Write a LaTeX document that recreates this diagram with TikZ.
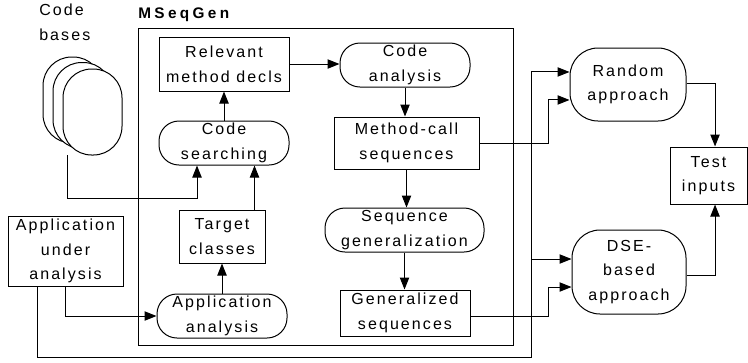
\documentclass[tikz,border=0pt]{standalone}
\usepackage{fontspec}
\setmainfont{Liberation Sans}[LetterSpace=13]
\newfontfamily\mfont{Liberation Sans}[LetterSpace=22]
\usetikzlibrary{arrows.meta}
\tikzset{
  box/.style={draw, line width=0.75pt, inner sep=0pt, align=center, font=\fontsize{12}{18.5}\selectfont},
  stad/.style={box, rounded corners=15pt},
  bigstad/.style={box, rounded corners=21pt},
  cyl/.style={draw, line width=0.75pt, fill=white, rounded corners=21.5pt, minimum width=44.25pt, minimum height=64.5pt},
  arr/.style={-{Triangle[length=9pt,width=7pt]}, line width=0.75pt},
  ln/.style={line width=0.75pt},
  lbl/.style={inner sep=0pt, align=left, font=\fontsize{12}{18.5}\selectfont}
}
\begin{document}
\begin{tikzpicture}[x=0.75pt, y=-0.75pt]
\useasboundingbox (0,0) rectangle (748,362);
% labels
\node[lbl, anchor=north west] (cbl) at (39,4) {Code\\bases};
\node[inner sep=0pt, anchor=west, font=\mfont\bfseries\fontsize{11.5}{13}\selectfont] (mtitle) at (138,15) {MSeqGen};
% MSeqGen frame
\node[draw, line width=0.75pt, minimum width=281.25pt, minimum height=237.75pt, inner sep=0pt] (mbox) at (325.5,186.5) {};
% code bases stack
\node[cyl] (cb1) at (72.5,100) {};
\node[cyl] (cb2) at (82.5,105.5) {};
\node[cyl] (cb3) at (92.5,112) {};
\coordinate (cbout) at (67,155);
% nodes
\node[box, minimum width=97.5pt, minimum height=40.5pt] (rel) at (224,64) {Relevant\\method decls};
\node[stad, minimum width=97.5pt, minimum height=33pt] (ca) at (405,65) {Code\\analysis};
\node[box, minimum width=108.75pt, minimum height=39pt] (mcs) at (406.5,143) {Method-call\\sequences};
\node[stad, minimum width=97.5pt, minimum height=33pt] (cs) at (224,143) {Code\\searching};
\node[box, minimum width=64.5pt, minimum height=39.75pt] (tc) at (222,236.5) {Target\\classes};
\node[stad, minimum width=97.5pt, minimum height=33pt] (aa) at (222,316) {Application\\analysis};
\node[box, minimum width=86.25pt, minimum height=52.5pt] (aua) at (65.5,251) {Application\\under\\analysis};
\node[stad, minimum width=119.25pt, minimum height=33pt] (sg) at (404.5,230) {Sequence\\generalization};
\node[box, minimum width=97.5pt, minimum height=34.5pt] (gs) at (405,313) {Generalized\\sequences};
\node[bigstad, minimum width=87pt, minimum height=54.75pt] (ra) at (628,84.5) {Random\\approach};
\node[bigstad, minimum width=85.5pt, minimum height=63pt] (dse) at (629,272) {DSE-\\based\\approach};
\node[box, minimum width=57.75pt, minimum height=42.75pt] (ti) at (708.5,175.5) {Test\\inputs};
% turning points
\coordinate (cbturn) at (197,198);
\coordinate (busx) at (531,357);
\coordinate (j1) at (531,259);
\coordinate (jx) at (548,0);
% connectors
\draw[arr] (rel.east) -- (rel.east -| ca.west);
\draw[arr] (ca.south) -- (ca.south |- mcs.north);
\draw[arr] (mcs.south) -- (mcs.south |- sg.north);
\draw[arr] (sg.south) -- (sg.south |- gs.north);
\draw[arr] (cs.north) -- (cs.north |- rel.south);
\draw[arr] (aa.north) -- (aa.north |- tc.south);
\draw[arr] ([xshift=-8.25pt]tc.north east) -- ([xshift=-8.25pt]tc.north east |- cs.south);
\draw[arr] (cbout) |- (cbturn) -- (cbturn |- cs.south);
\draw[arr] (aua.south) |- (aa.west);
\draw[arr] ([xshift=22.5pt]aua.south west) |- (busx) |- ([yshift=9.4pt]ra.west);
\draw[arr] (j1) -- ([yshift=9.75pt]dse.west);
\draw[arr] (mcs.east) -- (mcs.east -| jx) |- ([yshift=-11.6pt]ra.west);
\draw[arr] ([yshift=-2.25pt]gs.east) -- ([yshift=-2.25pt]gs.east -| jx) |- ([yshift=-11.25pt]dse.west);
\draw[arr] ([yshift=1.1pt]ra.east) -| ([xshift=4.9pt]ti.north);
\draw[arr] ([yshift=-2.25pt]dse.east) -| ([xshift=4.9pt]ti.south);
\end{tikzpicture}
\end{document}
